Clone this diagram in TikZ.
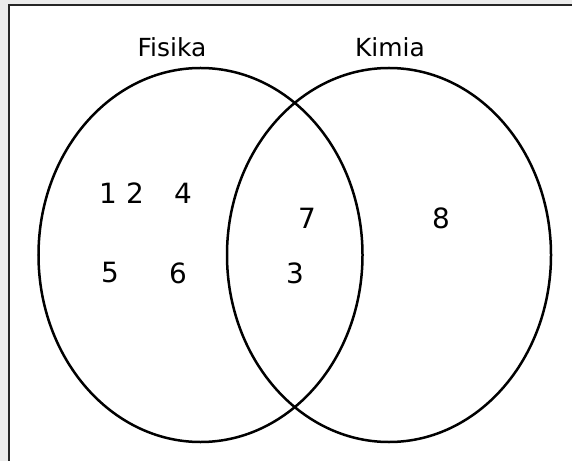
\documentclass[tikz,border=0pt]{standalone}
\usepackage{fontspec}
\setmainfont{DejaVu Sans}
\usetikzlibrary{shapes.geometric}
\definecolor{bggray}{RGB}{236,236,236}
\tikzset{
  setring/.style={draw=black, line width=2.5bp, ellipse, inner sep=0pt, minimum width=324bp, minimum height=374bp},
  lbl/.style={font=\fontsize{25}{25}\selectfont, inner sep=0pt},
  num/.style={font=\fontsize{28}{28}\selectfont, inner sep=0pt}
}
\begin{document}
\begin{tikzpicture}[x=1bp, y=-1bp]
\useasboundingbox (0,0) rectangle (572,461);
\fill[bggray] (0,0) rectangle (572,461);
\fill[white] (9,5) rectangle (572,461);
\coordinate (fa) at (9,461);
\coordinate (fb) at (9,5);
\coordinate (fc) at (572,5);
\draw[line width=2.5bp, black!85] (fa) -- (fb) -- (fc);
\node[setring] (fis) at (200.5,255) {};
\node[setring] (kim) at (389,255) {};
\node[lbl] (tf) at (172,47) {Fisika};
\node[lbl] (tk) at (390,47) {Kimia};
\node[num] (n1) at (108,193) {1};
\node[num] (n2) at (135,193) {2};
\node[num] (n4) at (183,193) {4};
\node[num] (n5) at (110,273) {5};
\node[num] (n6) at (178,273) {6};
\node[num] (n7) at (307,218) {7};
\node[num] (n3) at (295,273) {3};
\node[num] (n8) at (441,218) {8};
\end{tikzpicture}
\end{document}
